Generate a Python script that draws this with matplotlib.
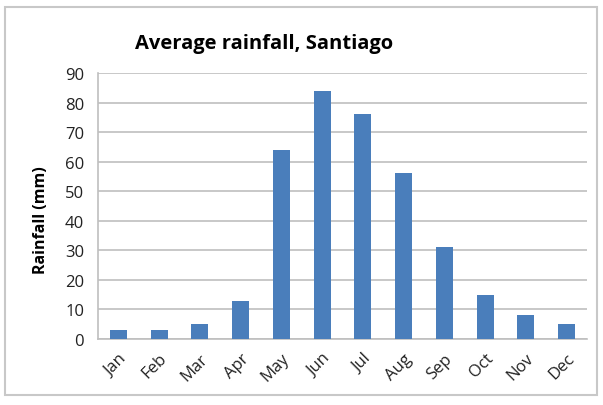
import matplotlib.pyplot as plt
from matplotlib.patches import Rectangle

months = ["Jan", "Feb", "Mar", "Apr", "May", "Jun",
          "Jul", "Aug", "Sep", "Oct", "Nov", "Dec"]
rainfall = [3, 3, 5, 13, 64, 84, 76, 56, 31, 15, 8, 5]
y_ticks = [0, 10, 20, 30, 40, 50, 60, 70, 80, 90]

plt.rcParams['font.family'] = ['Open Sans', 'DejaVu Sans']

fig = plt.figure(figsize=(6.03, 4.06), dpi=100)
ax = fig.add_axes([98 / 603, 1 - 340 / 406, (587 - 98) / 603, (340 - 74) / 406])

# outer chart border
fig.patches.append(Rectangle((5 / 603, 10 / 406), 592 / 603, 388 / 406,
                             transform=fig.transFigure, fill=False,
                             edgecolor='#c8c8c8', linewidth=1.5))

x = range(len(months))
ax.bar(x, rainfall, width=0.42, color='#4a7ebb', zorder=3)

ax.set_xlim(-0.5, len(months) - 0.5)
ax.set_ylim(0, 90)
ax.set_yticks(y_ticks)
ax.set_xticks(list(x))
ax.set_xticklabels(months, rotation=45, ha='right', rotation_mode='anchor')
ax.tick_params(axis='both', length=0, labelsize=12, colors='#222222')
ax.tick_params(axis='x', pad=8)
ax.tick_params(axis='y', pad=10)

ax.grid(axis='y', color='#bfbfbf', linewidth=1.2, zorder=0)
for side in ['top', 'right']:
    ax.spines[side].set_visible(False)
ax.spines['left'].set_color('#bfbfbf')
ax.spines['bottom'].set_color('#bfbfbf')
ax.spines['left'].set_linewidth(1.2)
ax.spines['bottom'].set_linewidth(1.2)

ax.set_ylabel("Rainfall (mm)", fontsize=11.5, fontweight='bold')
ax.yaxis.set_label_coords(-0.1, 0.45)
fig.text(0.5 * (137 + 392) / 603, 1 - 44 / 406, "Average rainfall, Santiago",
         ha='center', va='center', fontsize=14.5, fontweight='bold')

fig.savefig("out.png", dpi=100, facecolor='white')
